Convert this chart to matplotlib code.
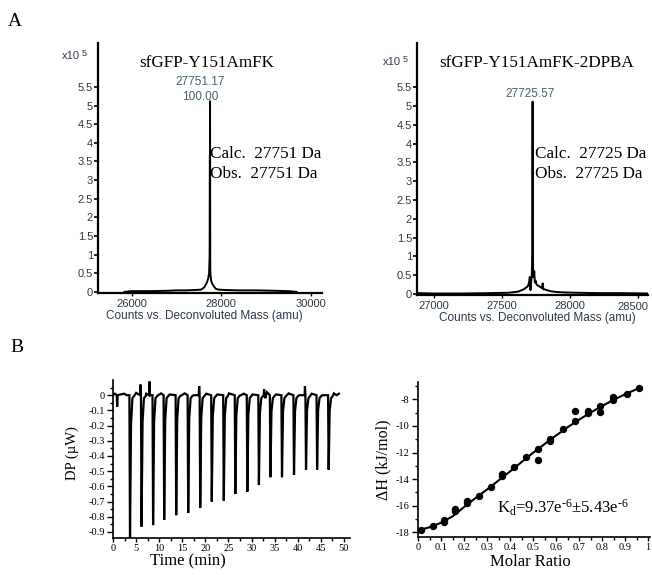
import numpy as np
import matplotlib
matplotlib.use("Agg")
import matplotlib.pyplot as plt
from matplotlib.ticker import MultipleLocator, FixedLocator

plt.rcParams['axes.unicode_minus'] = False
plt.rcParams['mathtext.fontset'] = 'custom'
plt.rcParams['mathtext.rm'] = 'Liberation Serif'
plt.rcParams['mathtext.it'] = 'Liberation Serif:italic'

SANS = 'Liberation Sans'
SERIF = 'Liberation Serif'
TICKC = '#2c3a48'
ANNC = '#3d6470'

# ---------------- data: mass spectra (intensity in x10^5 counts) -------------
mass_left = [25840, 26000, 26400, 26800, 27000, 27200, 27400, 27550, 27620, 27680,
             27710, 27730, 27742, 27746, 27749, 27751, 27753, 27756, 27762, 27775,
             27800, 27840, 27880, 27950, 28100, 28400, 28800, 29200, 29500, 29680]
int_left = [0.0, 0.02, 0.02, 0.03, 0.04, 0.04, 0.05, 0.06, 0.12, 0.25,
            0.36, 0.5, 1.0, 3.65, 3.7, 5.12, 3.0, 0.6, 0.45, 0.3,
            0.22, 0.14, 0.08, 0.06, 0.05, 0.04, 0.04, 0.03, 0.02, 0.0]
peak_left_mass = 27751.17
peak_left_label = ["27751.17", "100.00"]

mass_right = [26880, 27000, 27200, 27400, 27550, 27620, 27660, 27690, 27700, 27705,
              27710, 27715, 27720, 27723, 27725.57, 27728, 27732, 27738, 27742, 27748,
              27755, 27765, 27775, 27785, 27795, 27800, 27805, 27815, 27830, 27860,
              27900, 27950, 28050, 28200, 28400, 28575]
int_right = [0.02, 0.01, 0.01, 0.02, 0.03, 0.06, 0.12, 0.2, 0.3, 0.45,
             0.1, 0.3, 0.5, 1.0, 5.12, 0.9, 0.45, 0.6, 0.3, 0.35,
             0.25, 0.22, 0.2, 0.18, 0.15, 0.28, 0.12, 0.12, 0.1, 0.07,
             0.05, 0.04, 0.03, 0.02, 0.02, 0.01]
peak_right_mass = 27725.57
peak_right_label = "27725.57"

ms_yticks = [0, 0.5, 1, 1.5, 2, 2.5, 3, 3.5, 4, 4.5, 5, 5.5]
ms_left_xticks = [26000, 28000, 30000]
ms_right_xticks = [27000, 27500, 28000, 28500]

# ---------------- data: ITC raw thermogram ----------------
inj_time = [3.6, 6.1, 8.6, 11.0, 13.6, 16.2, 18.8, 21.3, 23.9, 26.4, 29.0, 31.5,
            34.0, 36.5, 39.1, 41.7, 44.1, 46.6]
inj_depth = [-0.96, -0.865, -0.855, -0.82, -0.79, -0.775, -0.74, -0.70, -0.695,
             -0.65, -0.635, -0.59, -0.54, -0.54, -0.525, -0.49, -0.49, -0.49]
blip_time = [0.9, 5.95, 7.9, 18.65, 32.7, 41.55]
blip_val = [-0.075, 0.07, 0.09, 0.06, 0.04, 0.06]
wiggle_time = [0.0, 0.4, 1.6, 2.4, 3.0, 5.0, 7.2, 9.8, 10.4, 12.3, 14.9, 15.5, 17.5,
               20.2, 22.6, 25.1, 27.7, 28.3, 30.2, 33.0, 33.3, 35.3, 38.0, 40.4,
               43.0, 45.4, 47.8, 48.4, 48.9]
wiggle_val = [0.0, 0.01, 0.005, 0.01, 0.0, 0.015, 0.01, 0.0, 0.012, 0.005, 0.0, 0.012,
              0.0, 0.01, 0.005, 0.012, 0.0, 0.01, 0.005, -0.02, 0.02, 0.005, 0.012,
              0.0, 0.01, 0.0, 0.012, 0.0, 0.01]
itc_yticks = [0, -0.1, -0.2, -0.3, -0.4, -0.5, -0.6, -0.7, -0.8, -0.9]
itc_yticklabels = ['0', '-0.1', '-0.2', '-0.3', '-0.4', '-0.5', '-0.6', '-0.7',
                   '-0.8', '-0.9']
itc_xticks = [0, 5, 10, 15, 20, 25, 30, 35, 40, 45, 50]

# ---------------- data: ITC integrated heats ----------------
molar_ratio = [0.015, 0.063, 0.112, 0.112, 0.16, 0.16, 0.213, 0.213, 0.264, 0.315,
               0.365, 0.365, 0.417, 0.468, 0.522, 0.522, 0.573, 0.573, 0.628, 0.681,
               0.681, 0.739, 0.739, 0.79, 0.79, 0.848, 0.848, 0.906, 0.961]
delta_h = [-17.8, -17.55, -17.1, -17.2, -16.25, -16.42, -15.65, -15.8, -15.25, -14.6,
           -13.65, -13.8, -13.1, -12.35, -11.7, -12.6, -10.95, -11.1, -10.2, -9.65,
           -8.85, -8.85, -9.05, -8.5, -8.95, -7.85, -8.02, -7.62, -7.15]
fit_ratio = [0.0, 0.05, 0.1, 0.15, 0.2, 0.25, 0.3, 0.35, 0.4, 0.45, 0.5, 0.55,
             0.6, 0.65, 0.7, 0.75, 0.8, 0.85, 0.9, 0.95, 0.97]
fit_dh = [-17.85, -17.62, -17.28, -16.8, -16.1, -15.42, -14.78, -14.1, -13.42,
          -12.72, -12.02, -11.36, -10.72, -10.1, -9.53, -9.0, -8.5, -8.04, -7.62,
          -7.24, -7.1]
mr_xticks = [0, 0.1, 0.2, 0.3, 0.4, 0.5, 0.6, 0.7, 0.8, 0.9, 1.0]
mr_xticklabels = ['0', '0.1', '0.2', '0.3', '0.4', '0.5', '0.6', '0.7', '0.8', '0.9', '1']
dh_yticks = [-18, -16, -14, -12, -10, -8]
kd_text = 'K$\\mathregular{_d}$=9.37e$\\mathregular{^{\u20106}}$±5.43e$\\mathregular{^{\u20106}}$'

W, H = 652, 575
fig = plt.figure(figsize=(W / 100, H / 100), dpi=100)


def px_axes(l, t, r, b):
    return fig.add_axes([l / W, 1 - b / H, (r - l) / W, (b - t) / H])


def fx(x):
    return x / W


def fy(y):
    return 1 - y / H


def ms_style(ax, xticks, xlim):
    for s in ['top', 'right']:
        ax.spines[s].set_visible(False)
    for s in ['left', 'bottom']:
        ax.spines[s].set_linewidth(1.6)
        ax.spines[s].set_color('black')
    ax.set_xlim(*xlim)
    ax.set_ylim(-0.03, 6.68)
    ax.set_yticks(ms_yticks)
    ax.set_yticklabels([('%g' % v) for v in ms_yticks])
    ax.set_xticks(xticks)
    ax.tick_params(axis='y', direction='out', length=3, width=1.2, pad=0.5,
                   labelsize=8, labelcolor=TICKC)
    ax.tick_params(axis='x', direction='out', length=2, width=1, pad=2,
                   labelsize=8, labelcolor=TICKC)
    for lab in ax.get_yticklabels():
        lab.set_family(SANS)


# ---- panel A left ----
ax1 = px_axes(98, 43, 322, 293)
ax1.plot(mass_left, int_left, color='black', lw=1.4)
ms_style(ax1, ms_left_xticks, (25250, 30250))
ax1.set_xticklabels([str(v) for v in ms_left_xticks], family=SANS)
ax1.text(peak_left_mass - 224, 5.62, peak_left_label[0], ha='center', va='center',
         fontsize=8.5, family=SANS, color=ANNC)
ax1.text(peak_left_mass - 224, 5.22, peak_left_label[1], ha='center', va='center',
         fontsize=8.5, family=SANS, color=ANNC)
ax1.text(0.487, 0.92, 'sfGFP-Y151AmFK', transform=ax1.transAxes, ha='center',
         va='center', fontsize=12.3, family=SERIF)
ax1.text(0.5, 0.556, 'Calc.  27751 Da', transform=ax1.transAxes, ha='left',
         va='center', fontsize=12.3, family=SERIF)
ax1.text(0.5, 0.476, 'Obs.  27751 Da', transform=ax1.transAxes, ha='left',
         va='center', fontsize=12.3, family=SERIF)
fig.text(fx(204), fy(316), 'Counts vs. Deconvoluted Mass (amu)', fontsize=8.5,
         family=SANS, color=TICKC, ha='center', va='center')

# ---- panel A right ----
ax2 = px_axes(417, 43, 648, 295)
ax2.plot(mass_right, int_right, color='black', lw=1.4)
ms_style(ax2, ms_right_xticks, (26875, 28575))
ax2.set_xticklabels([str(v) for v in ms_right_xticks[:-1]] + [''], family=SANS)
ax2.text(1.0, -0.028, str(ms_right_xticks[-1]), transform=ax2.transAxes,
         ha='right', va='top', fontsize=8, family=SANS, color=TICKC)
ax2.text(peak_right_mass - 19, 5.33, peak_right_label, ha='center', va='center',
         fontsize=8.5, family=SANS, color=ANNC)
ax2.text(0.52, 0.92, 'sfGFP-Y151AmFK-2DPBA', transform=ax2.transAxes, ha='center',
         va='center', fontsize=12.3, family=SERIF)
ax2.text(0.511, 0.56, 'Calc.  27725 Da', transform=ax2.transAxes, ha='left',
         va='center', fontsize=12.3, family=SERIF)
ax2.text(0.511, 0.48, 'Obs.  27725 Da', transform=ax2.transAxes, ha='left',
         va='center', fontsize=12.3, family=SERIF)
fig.text(fx(537), fy(318), 'Counts vs. Deconvoluted Mass (amu)', fontsize=8.5,
         family=SANS, color=TICKC, ha='center', va='center')

# x10^5 labels
for (x0, y0) in [(62, 56), (383, 62)]:
    fig.text(fx(x0), fy(y0), 'x10', fontsize=8, family=SANS, color=TICKC,
             ha='left', va='center')
    fig.text(fx(x0 + 20), fy(y0 - 3), '5', fontsize=6.5, family=SANS,
             color=TICKC, ha='left', va='center')

# ---- panel B left: ITC thermogram ----
pts = []
for t, v in zip(wiggle_time, wiggle_val):
    pts.append((t, v))
for t, v in zip(blip_time, blip_val):
    pts.append((t - 0.08, 0.0))
    pts.append((t, v))
    pts.append((t + 0.1, 0.0))
for t, d in zip(inj_time, inj_depth):
    pts.append((t - 0.05, 0.0))
    pts.append((t + 0.08, d))
    pts.append((t + 0.3, d * 0.2))
    pts.append((t + 0.6, -0.02))
    pts.append((t + 1.0, -0.004))
pts.sort(key=lambda p: p[0])
tt = [p[0] for p in pts]
vv = [p[1] for p in pts]

ax3 = px_axes(113, 380, 350, 538)
ax3.plot(tt, vv, color='black', lw=1.6, solid_joinstyle='miter')
ax3.set_xlim(0, 51.3)
ax3.set_ylim(-0.94, 0.1)
for s in ['top', 'right']:
    ax3.spines[s].set_visible(False)
for s in ['left', 'bottom']:
    ax3.spines[s].set_linewidth(1.2)
ax3.set_xticks(itc_xticks)
ax3.set_xticklabels([str(v) for v in itc_xticks], family=SERIF)
ax3.xaxis.set_minor_locator(MultipleLocator(2.5))
ax3.set_yticks(itc_yticks)
ax3.set_yticklabels(itc_yticklabels, family=SERIF)
ax3.yaxis.set_minor_locator(FixedLocator([0.05 - 0.1 * i for i in range(10)]))
ax3.tick_params(axis='y', which='major', direction='out', length=4, width=1,
                labelsize=7.5, pad=2)
ax3.tick_params(axis='x', which='major', direction='out', length=3, width=1,
                labelsize=7.5, pad=1)
ax3.tick_params(which='minor', direction='out', length=2, width=1)
fig.text(fx(188), fy(561), 'Time (min)', fontsize=12, family=SERIF,
         ha='center', va='center')
fig.text(fx(72), fy(453), 'DP (µW)', rotation=90, fontsize=10.5, family=SERIF,
         ha='center', va='center')

# ---- panel B right: binding isotherm ----
ax4 = px_axes(418, 382, 650, 537)
ax4.plot(fit_ratio, fit_dh, color='black', lw=1.5)
ax4.plot(molar_ratio, delta_h, 'o', color='black', ms=4.3)
ax4.set_xlim(0, 1.008)
ax4.set_ylim(-18.35, -6.7)
for s in ['top', 'right']:
    ax4.spines[s].set_visible(False)
for s in ['left', 'bottom']:
    ax4.spines[s].set_linewidth(1.2)
ax4.set_xticks(mr_xticks)
ax4.set_xticklabels(mr_xticklabels, family=SERIF)
ax4.xaxis.set_minor_locator(FixedLocator([0.05 + 0.1 * i for i in range(10)]))
ax4.set_yticks(dh_yticks)
ax4.set_yticklabels([str(v) for v in dh_yticks], family=SERIF)
ax4.yaxis.set_minor_locator(FixedLocator([-17, -15, -13, -11, -9, -7]))
ax4.tick_params(axis='y', which='major', direction='out', length=4, width=1,
                labelsize=7.5, pad=2)
ax4.tick_params(axis='x', which='major', direction='out', length=3, width=1,
                labelsize=7.5, pad=1)
ax4.tick_params(which='minor', direction='out', length=2, width=1)
fig.text(fx(530), fy(562), 'Molar Ratio', fontsize=12, family=SERIF,
         ha='center', va='center')
fig.text(fx(383), fy(460), 'ΔH (kJ/mol)', rotation=90, fontsize=11.5,
         family=SERIF, ha='center', va='center')
ax4.text(0.34, 0.19, kd_text, transform=ax4.transAxes, ha='left', va='center',
         fontsize=12, family=SERIF)

# panel letters
fig.text(fx(15), fy(21), 'A', fontsize=14, family=SERIF, ha='center', va='center')
fig.text(fx(17), fy(348), 'B', fontsize=14, family=SERIF, ha='center', va='center')

fig.savefig('out.png', dpi=100, facecolor='white')
